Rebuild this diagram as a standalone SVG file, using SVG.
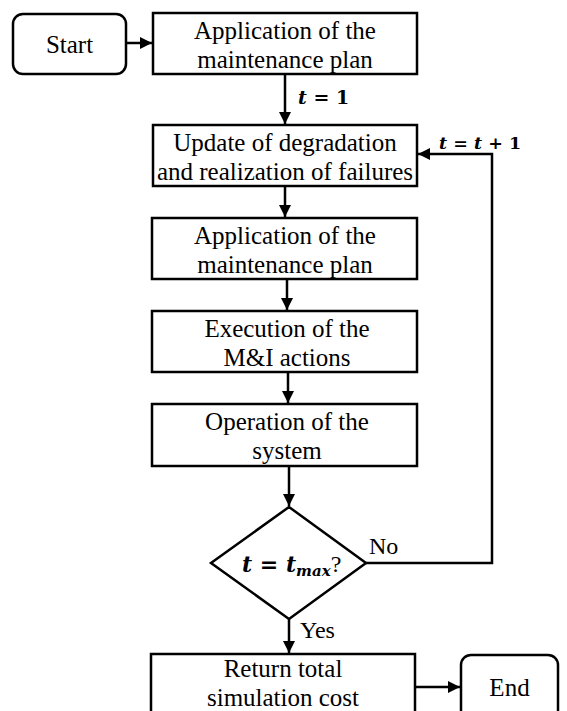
<svg xmlns="http://www.w3.org/2000/svg" width="567" height="711" viewBox="0 0 567 711">
<style>
.box{fill:#fff;stroke:#000;stroke-width:2.5}
.t{font-family:"Liberation Serif","Times New Roman",serif;font-size:25px;fill:#000;text-anchor:middle}
.lbl{font-family:"Liberation Serif","Times New Roman",serif;font-size:24px;fill:#000}
.m{font-family:"DejaVu Serif","Liberation Serif",serif;font-size:17px;font-weight:bold;fill:#000}
.mi{font-style:italic}
.c{fill:none;stroke:#000;stroke-width:2.5}
</style>
<defs>
<marker id="ah" markerWidth="12" markerHeight="12" viewBox="0 0 12 12" refX="12" refY="6" orient="auto" markerUnits="userSpaceOnUse">
<path d="M0,0 L12,6 L0,12 Z" fill="#000"/>
</marker>
</defs>
<g id="connectors">
<line class="c" x1="126" y1="43" x2="152" y2="43" marker-end="url(#ah)"/>
<line class="c" x1="285" y1="74" x2="285" y2="124" marker-end="url(#ah)"/>
<line class="c" x1="285" y1="186" x2="285" y2="217" marker-end="url(#ah)"/>
<line class="c" x1="287" y1="279" x2="287" y2="310" marker-end="url(#ah)"/>
<line class="c" x1="288" y1="372" x2="288" y2="403" marker-end="url(#ah)"/>
<line class="c" x1="289" y1="466" x2="289" y2="506" marker-end="url(#ah)"/>
<polyline class="c" points="366,563 492,563 492,154 418,154" marker-end="url(#ah)"/>
<line class="c" x1="289" y1="619" x2="289" y2="653" marker-end="url(#ah)"/>
<line class="c" x1="415" y1="687" x2="460" y2="687" marker-end="url(#ah)"/>
<text class="m" x="298" y="104" style="font-size:19px"><tspan class="mi">t</tspan> = 1</text>
<text class="m" x="439" y="149" style="font-size:17.5px"><tspan class="mi">t</tspan> = <tspan class="mi">t</tspan> + 1</text>
<text class="lbl" x="369" y="554">No</text>
<text class="lbl" x="300" y="638">Yes</text>
</g>
<g id="start">
<rect class="box" x="13" y="14" width="113" height="60" rx="10"/>
<text class="t" x="69.5" y="53">Start</text>
</g>
<g id="apply1">
<rect class="box" x="153" y="13" width="264" height="61"/>
<text class="t" x="285" y="39">Application of the</text>
<text class="t" x="285" y="68">maintenance plan</text>
</g>
<g id="update">
<rect class="box" x="153" y="125" width="264" height="61"/>
<text class="t" x="285" y="151">Update of degradation</text>
<text class="t" x="285" y="180">and realization of failures</text>
</g>
<g id="apply2">
<rect class="box" x="152" y="218" width="265" height="61"/>
<text class="t" x="285" y="244">Application of the</text>
<text class="t" x="285" y="273">maintenance plan</text>
</g>
<g id="exec">
<rect class="box" x="152" y="311" width="265" height="61"/>
<text class="t" x="287" y="337">Execution of the</text>
<text class="t" x="287" y="366">M&amp;I actions</text>
</g>
<g id="oper">
<rect class="box" x="152" y="404" width="265" height="62"/>
<text class="t" x="287" y="430">Operation of the</text>
<text class="t" x="287" y="459">system</text>
</g>
<g id="decision">
<polygon class="box" points="289,507 366,563 289,619 211,563"/>
<text class="m" x="242" y="572" style="font-size:22px"><tspan class="mi">t</tspan> = <tspan class="mi">t</tspan><tspan class="mi" font-size="15" dy="4">max</tspan><tspan dy="-4" font-family="Liberation Serif" font-weight="normal" font-size="24">?</tspan></text>
</g>
<g id="return">
<rect class="box" x="151" y="654" width="264" height="70"/>
<text class="t" x="283" y="677">Return total</text>
<text class="t" x="283" y="706">simulation cost</text>
</g>
<g id="end">
<rect class="box" x="461" y="655" width="97" height="70" rx="10"/>
<text class="t" x="509.5" y="696">End</text>
</g>
</svg>
